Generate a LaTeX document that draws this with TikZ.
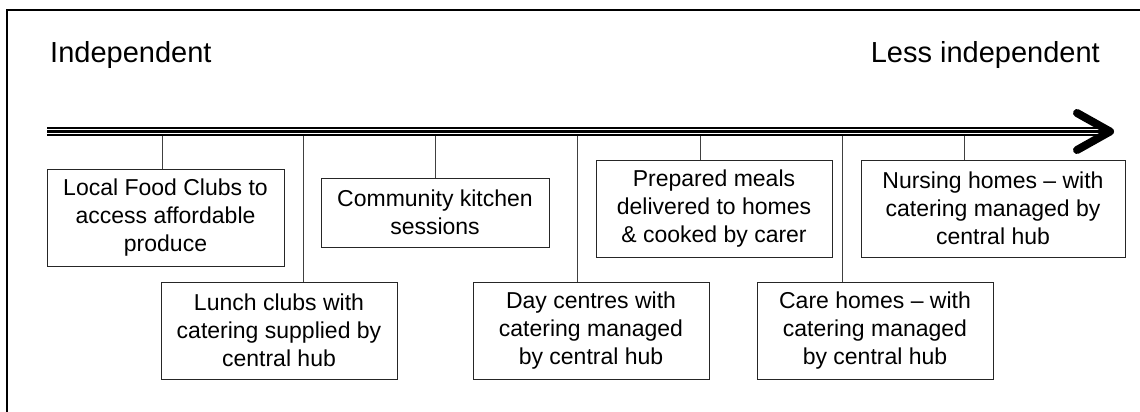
\documentclass[tikz,border=0pt]{standalone}
\usepackage{fontspec}
\setmainfont{Liberation Sans}
\usetikzlibrary{positioning}
\tikzset{
  stage/.style = {draw=black!85, line width=1pt, fill=white, align=center,
                  inner sep=0pt, font=\fontsize{23}{28}\selectfont},
  link/.style = {line width=1pt, draw=black!75},
  scale band/.style = {line width=9.3pt},
  scale gap/.style = {line width=0.7pt, white},
  scale tip/.style = {line width=8pt, line cap=round, line join=round},
  heading/.style = {font=\fontsize{29}{34}\selectfont, inner sep=0pt},
  frame/.style = {line width=2pt},
}

\begin{document}
\begin{tikzpicture}[x=1pt, y=-1pt]
  \useasboundingbox (0,0) rectangle (1140,412);

  %% Frame round the figure (cut off on the right and below)
  \draw [frame] (7,412) -- (7,10) -- (1140,10);

  %% The two ends of the scale
  \node [heading, anchor=base west] (indep) at (50,63) {Independent};
  \node [heading, anchor=base east] (less) at (1100,63) {Less independent};

  %% The scale itself: a black band split by two hairlines, and a barbed tip
  \draw [scale band] (47,131.35) -- (1104,131.35);
  \draw [scale gap]  (47,129.6) -- (1100,129.6);
  \draw [scale gap]  (47,133.1) -- (1100,133.1);
  \draw [scale tip] (1077,113) -- (1110,131.5) -- (1077,150);

  %% The settings, from the most to the least independent
  \node [stage, minimum width=237pt, minimum height=97pt] (food) at (165.5,217.5)
        {Local Food Clubs to\\access affordable\\produce};
  \node [stage, minimum width=236pt, minimum height=97pt] (lunch) at (279,330.5)
        {Lunch clubs with\\catering supplied by\\central hub};
  \node [stage, minimum width=228pt, minimum height=69pt] (kitchen) at (435,212.5)
        {Community kitchen\\sessions};
  \node [stage, minimum width=236pt, minimum height=97pt] (day) at (591,330.5)
        {Day centres with\\catering managed\\by central hub};
  \node [stage, minimum width=236pt, minimum height=97pt] (meals) at (714,208.5)
        {Prepared meals\\delivered to homes\\\& cooked by carer};
  \node [stage, minimum width=236pt, minimum height=97pt] (care) at (875,330.5)
        {Care homes – with\\catering managed\\by central hub};
  \node [stage, minimum width=264pt, minimum height=97pt] (nursing) at (993,208.5)
        {Nursing homes – with\\catering managed by\\central hub};

  %% Where each setting hangs from the scale
  \foreach \name/\x in {food/162, lunch/303, kitchen/435, day/577,
                        meals/700, care/842, nursing/964}{%
    \coordinate (tick_\name) at (\x,136);
    \draw [link] (tick_\name) -- (tick_\name |- \name.north);
  }
\end{tikzpicture}
\end{document}
